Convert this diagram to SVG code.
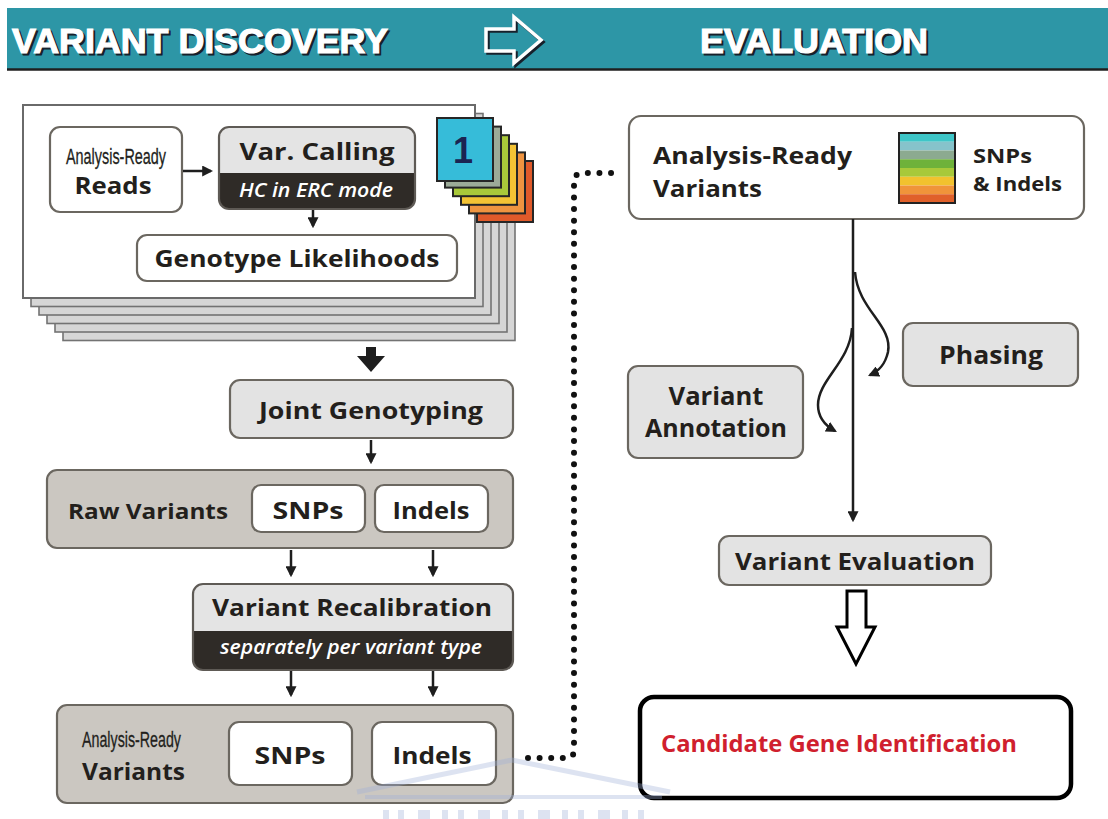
<svg xmlns="http://www.w3.org/2000/svg" width="1108" height="819" viewBox="0 0 1108 819">
  <defs>
    <style>
      .lbl { font-family: 'Open Sans', 'DejaVu Sans', sans-serif; font-weight: 700; fill: #231f1c; }
      .nar { font-family: 'Liberation Sans', Arial, sans-serif; font-weight: 400; fill: #231f1c; stroke: #231f1c; stroke-width: 0.3; }
      .ita { font-family: 'Open Sans', 'DejaVu Sans', sans-serif; font-style: italic; font-weight: 600; fill: #ffffff; }
      .hdr { font-family: 'Liberation Sans', Arial, sans-serif; font-weight: 700; font-size: 35px; }
      .box { stroke: #6b6760; stroke-width: 2.2; }
      .white { fill: #ffffff; }
      .light { fill: #e3e3e3; }
      .tan { fill: #cbc7c1; }
      .layer { fill: #d6d6d6; stroke: #737373; stroke-width: 1.6; }
      .tab { stroke: #262626; stroke-width: 2; }
      .conn { stroke: #1e1e1e; stroke-width: 2.5; fill: none; }
    </style>
    <marker id="ah" viewBox="0 0 10 10" refX="8" refY="5" markerWidth="11" markerHeight="11" markerUnits="userSpaceOnUse" orient="auto">
      <path d="M0,0 L10,5 L0,10 z" fill="#1e1e1e"/>
    </marker>
  </defs>

  <rect width="1108" height="819" fill="#ffffff"/>

  <!-- header band -->
  <g id="header">
    <rect x="7" y="8" width="1101" height="61" fill="#2d96a6"/>
    <line x1="7" y1="69.5" x2="1108" y2="69.5" stroke="#1f1f1f" stroke-width="2.5"/>
    <text class="hdr" x="14" y="55" fill="#17202b" stroke="#17202b" stroke-width="1.2" textLength="376" lengthAdjust="spacingAndGlyphs">VARIANT DISCOVERY</text>
    <text class="hdr" x="12" y="53" fill="#ffffff" stroke="#ffffff" stroke-width="1.2" textLength="376" lengthAdjust="spacingAndGlyphs">VARIANT DISCOVERY</text>
    <path d="M488,31 H516 V19 L543,42 L516,65 V53 H488 Z" fill="none" stroke="#17202b" stroke-width="3.5"/>
    <path d="M486,29 H514 V17 L541,40 L514,63 V51 H486 Z" fill="none" stroke="#ffffff" stroke-width="3.5"/>
    <text class="hdr" x="702" y="55" fill="#17202b" stroke="#17202b" stroke-width="1.2" textLength="228" lengthAdjust="spacingAndGlyphs">EVALUATION</text>
    <text class="hdr" x="700" y="53" fill="#ffffff" stroke="#ffffff" stroke-width="1.2" textLength="228" lengthAdjust="spacingAndGlyphs">EVALUATION</text>
  </g>

  <!-- per-sample stack of cards -->
  <g id="sample-stack">
    <rect class="layer" x="63" y="147.5" width="452" height="193"/>
    <rect class="layer" x="55" y="139" width="452" height="193"/>
    <rect class="layer" x="47" y="130.5" width="452" height="193"/>
    <rect class="layer" x="39" y="122" width="452" height="193"/>
    <rect class="layer" x="31" y="113.5" width="452" height="193"/>
    <rect x="23" y="105" width="452" height="193" fill="#ffffff" stroke="#6a6a6a" stroke-width="2"/>
  </g>

  <g id="sample-tabs">
    <rect class="tab" x="477" y="161" width="56" height="61" fill="#e05a2a"/>
    <rect class="tab" x="469" y="152.4" width="56" height="61" fill="#ef9440"/>
    <rect class="tab" x="461" y="143.8" width="56" height="61" fill="#f4c334"/>
    <rect class="tab" x="453" y="135.2" width="56" height="61" fill="#a9c93a"/>
    <rect class="tab" x="445" y="126.6" width="56" height="61" fill="#9cab98"/>
    <rect class="tab" x="437" y="118" width="56" height="63" fill="#36bcd9"/>
    <text x="463" y="163" text-anchor="middle" font-family="'Liberation Sans', Arial, sans-serif" font-weight="700" font-size="36" fill="#1b2452">1</text>
  </g>

  <g id="reads">
    <rect class="box white" x="50" y="127" width="132" height="85" rx="10"/>
    <text class="nar" x="116" y="164" font-size="22" text-anchor="middle" textLength="100" lengthAdjust="spacingAndGlyphs">Analysis-Ready</text>
    <text class="lbl" x="113" y="194" font-size="23" text-anchor="middle" textLength="77" lengthAdjust="spacingAndGlyphs">Reads</text>
  </g>

  <g id="var-calling">
    <rect x="219" y="127" width="196" height="82" rx="10" fill="#2f2b27"/>
    <path d="M219,173 V137 Q219,127 229,127 H405 Q415,127 415,137 V173 Z" fill="#e4e4e4"/>
    <rect x="219" y="127" width="196" height="82" rx="10" fill="none" stroke="#5e5a55" stroke-width="2.2"/>
    <text class="lbl" x="317" y="160" font-size="24" text-anchor="middle" textLength="155" lengthAdjust="spacingAndGlyphs">Var. Calling</text>
    <text class="ita" x="316" y="197" font-size="19" text-anchor="middle" textLength="154" lengthAdjust="spacingAndGlyphs">HC in ERC mode</text>
  </g>

  <g id="genotype-likelihoods">
    <rect class="box white" x="137" y="235" width="320" height="46" rx="10"/>
    <text class="lbl" x="297" y="267" font-size="23" text-anchor="middle" textLength="285" lengthAdjust="spacingAndGlyphs">Genotype Likelihoods</text>
  </g>

  <g id="joint-genotyping">
    <rect class="box light" x="230" y="380" width="283" height="58" rx="10"/>
    <text class="lbl" x="371" y="419" font-size="24" text-anchor="middle" textLength="224" lengthAdjust="spacingAndGlyphs">Joint Genotyping</text>
  </g>

  <g id="raw-variants">
    <rect class="box tan" x="47" y="470" width="466" height="78" rx="10"/>
    <text class="lbl" x="68" y="519" font-size="22" textLength="160" lengthAdjust="spacingAndGlyphs">Raw Variants</text>
    <rect class="box white" x="252" y="485" width="113" height="47" rx="9"/>
    <text class="lbl" x="308" y="519" font-size="23" text-anchor="middle" textLength="71" lengthAdjust="spacingAndGlyphs">SNPs</text>
    <rect class="box white" x="375" y="485" width="113" height="47" rx="9"/>
    <text class="lbl" x="431" y="519" font-size="23" text-anchor="middle" textLength="77" lengthAdjust="spacingAndGlyphs">Indels</text>
  </g>

  <g id="variant-recalibration">
    <rect x="193" y="584" width="320" height="86" rx="10" fill="#2f2b27"/>
    <path d="M193,631 V594 Q193,584 203,584 H503 Q513,584 513,594 V631 Z" fill="#e4e4e4"/>
    <rect x="193" y="584" width="320" height="86" rx="10" fill="none" stroke="#5e5a55" stroke-width="2.2"/>
    <text class="lbl" x="352" y="616" font-size="24" text-anchor="middle" textLength="280" lengthAdjust="spacingAndGlyphs">Variant Recalibration</text>
    <text class="ita" x="351" y="654" font-size="20" text-anchor="middle" textLength="262" lengthAdjust="spacingAndGlyphs">separately per variant type</text>
  </g>

  <g id="analysis-ready-variants-left">
    <rect class="box tan" x="57" y="705" width="456" height="98" rx="10"/>
    <text class="nar" x="82" y="747" font-size="22" textLength="99" lengthAdjust="spacingAndGlyphs">Analysis-Ready</text>
    <text class="lbl" x="82" y="780" font-size="23" textLength="103" lengthAdjust="spacingAndGlyphs">Variants</text>
    <rect class="box white" x="229" y="722" width="123" height="63" rx="10"/>
    <text class="lbl" x="290" y="764" font-size="23" text-anchor="middle" textLength="71" lengthAdjust="spacingAndGlyphs">SNPs</text>
    <rect class="box white" x="372" y="722" width="124" height="63" rx="10"/>
    <text class="lbl" x="432" y="764" font-size="23" text-anchor="middle" textLength="79" lengthAdjust="spacingAndGlyphs">Indels</text>
  </g>

  <g id="analysis-ready-variants-right">
    <rect class="box white" x="629" y="116" width="455" height="103" rx="12"/>
    <text class="lbl" x="653" y="164" font-size="24" textLength="199" lengthAdjust="spacingAndGlyphs">Analysis-Ready</text>
    <text class="lbl" x="653" y="197" font-size="24" textLength="109" lengthAdjust="spacingAndGlyphs">Variants</text>
    <g>
      <rect x="899" y="133" width="56" height="8.75" fill="#3ec6c8"/>
      <rect x="899" y="141.75" width="56" height="8.75" fill="#86c3cb"/>
      <rect x="899" y="150.5" width="56" height="8.75" fill="#8caa90"/>
      <rect x="899" y="159.25" width="56" height="8.75" fill="#6eb23a"/>
      <rect x="899" y="168" width="56" height="8.75" fill="#a8c93a"/>
      <rect x="899" y="176.75" width="56" height="8.75" fill="#f2c22e"/>
      <rect x="899" y="185.5" width="56" height="8.75" fill="#f0943a"/>
      <rect x="899" y="194.25" width="56" height="8.75" fill="#e0602a"/>
      <rect x="899" y="133" width="56" height="70" fill="none" stroke="#222" stroke-width="2"/>
    </g>
    <text class="lbl" x="973" y="163" font-size="20" textLength="59" lengthAdjust="spacingAndGlyphs">SNPs</text>
    <text class="lbl" x="973" y="191" font-size="20" textLength="89" lengthAdjust="spacingAndGlyphs">&amp; Indels</text>
  </g>

  <g id="phasing">
    <rect class="box light" x="903" y="323" width="175" height="63" rx="10"/>
    <text class="lbl" x="991" y="364" font-size="25" text-anchor="middle" textLength="104" lengthAdjust="spacingAndGlyphs">Phasing</text>
  </g>

  <g id="variant-annotation">
    <rect class="box light" x="628" y="366" width="175" height="92" rx="10"/>
    <text class="lbl" x="716" y="405" font-size="25" text-anchor="middle" textLength="95" lengthAdjust="spacingAndGlyphs">Variant</text>
    <text class="lbl" x="716" y="437" font-size="25" text-anchor="middle" textLength="142" lengthAdjust="spacingAndGlyphs">Annotation</text>
  </g>

  <g id="variant-evaluation">
    <rect class="box light" x="719" y="536" width="272" height="49" rx="10"/>
    <text class="lbl" x="855" y="570" font-size="24" text-anchor="middle" textLength="240" lengthAdjust="spacingAndGlyphs">Variant Evaluation</text>
  </g>

  <g id="candidate-gene">
    <rect x="640" y="697" width="431" height="101" rx="14" fill="#ffffff" stroke="#000000" stroke-width="4.5"/>
    <text x="661" y="752" font-family="'Open Sans', 'DejaVu Sans', sans-serif" font-weight="700" font-size="24" fill="#d01f2e" textLength="356" lengthAdjust="spacingAndGlyphs">Candidate Gene Identification</text>
  </g>

  <!-- connectors -->
  <g id="connectors">
    <line class="conn" x1="183" y1="171" x2="211" y2="171" marker-end="url(#ah)"/>
    <line class="conn" x1="313" y1="210" x2="313" y2="226" marker-end="url(#ah)"/>
    <polygon points="366,347 376,347 376,356 385,356 371,372 357,356 366,356" fill="#1e1e1e"/>
    <line class="conn" x1="371" y1="440" x2="371" y2="462" marker-end="url(#ah)"/>
    <line class="conn" x1="291" y1="550" x2="291" y2="575" marker-end="url(#ah)"/>
    <line class="conn" x1="433" y1="550" x2="433" y2="575" marker-end="url(#ah)"/>
    <line class="conn" x1="291" y1="671" x2="291" y2="695" marker-end="url(#ah)"/>
    <line class="conn" x1="433" y1="671" x2="433" y2="695" marker-end="url(#ah)"/>
    <path d="M528,758 H566 Q574,758 574,750 V182 Q574,173 583,173 H616" fill="none" stroke="#111" stroke-width="6" stroke-linecap="round" stroke-dasharray="0 11.6"/>
    <line class="conn" x1="853" y1="219" x2="853" y2="520" marker-end="url(#ah)"/>
    <path class="conn" d="M855,272 C858,310 893,325 888,352 C885,365 879,371 870,375" marker-end="url(#ah)"/>
    <path class="conn" d="M852,328 C850,362 818,380 818,405 C818,418 826,426 835,431" marker-end="url(#ah)"/>
    <path d="M847,591 H866 V627 H875 L856,664 L837,627 H847 Z" fill="#ffffff" stroke="#000" stroke-width="3" stroke-linejoin="miter"/>
  </g>

  <!-- faint background emblem -->
  <g id="emblem" opacity="0.35" fill="none" stroke="#9fb0d8">
    <path d="M357,792 L512,760 L670,792" stroke-width="5"/>
    <line x1="365" y1="797" x2="662" y2="797" stroke-width="4"/>
    <g stroke="none" fill="#9fb0d8">
      <rect x="383" y="810" width="6" height="9"/><rect x="398" y="810" width="6" height="9"/>
      <rect x="418" y="810" width="12" height="9"/><rect x="442" y="810" width="6" height="9"/>
      <rect x="458" y="810" width="6" height="9"/><rect x="478" y="810" width="12" height="9"/>
      <rect x="502" y="810" width="6" height="9"/><rect x="518" y="810" width="6" height="9"/>
      <rect x="538" y="810" width="12" height="9"/><rect x="562" y="810" width="6" height="9"/>
      <rect x="578" y="810" width="6" height="9"/><rect x="598" y="810" width="12" height="9"/>
      <rect x="622" y="810" width="6" height="9"/><rect x="638" y="810" width="6" height="9"/>
    </g>
  </g>
</svg>
